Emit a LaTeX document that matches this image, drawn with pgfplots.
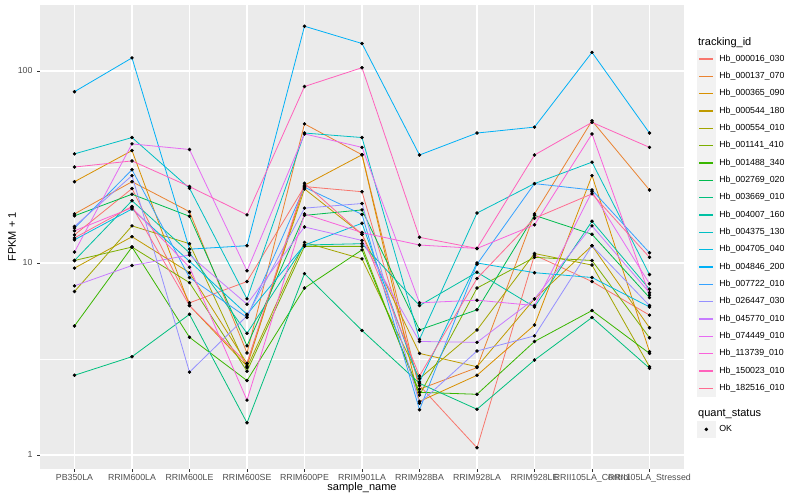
\documentclass[border=0pt]{standalone}
\usepackage{fontspec}
\setmainfont{Liberation Sans}
\usepackage{pgfplots}
\usepackage{pgfplotstable}
\pgfplotsset{compat=1.18}

\definecolor{gbg}{HTML}{EBEBEB}
\definecolor{gkey}{HTML}{F2F2F2}
\definecolor{gtick}{HTML}{333333}
\definecolor{gtxt}{HTML}{4D4D4D}
\definecolor{c1}{HTML}{F8766D}
\definecolor{c2}{HTML}{EA8331}
\definecolor{c3}{HTML}{D89000}
\definecolor{c4}{HTML}{C09B00}
\definecolor{c5}{HTML}{A3A500}
\definecolor{c6}{HTML}{7CAE00}
\definecolor{c7}{HTML}{39B600}
\definecolor{c8}{HTML}{00BB4E}
\definecolor{c9}{HTML}{00BF7D}
\definecolor{c10}{HTML}{00C1A3}
\definecolor{c11}{HTML}{00BFC4}
\definecolor{c12}{HTML}{00BAE0}
\definecolor{c13}{HTML}{00B0F6}
\definecolor{c14}{HTML}{35A2FF}
\definecolor{c15}{HTML}{9590FF}
\definecolor{c16}{HTML}{C77CFF}
\definecolor{c17}{HTML}{E76BF3}
\definecolor{c18}{HTML}{FA62DB}
\definecolor{c19}{HTML}{FF62BC}
\definecolor{c20}{HTML}{FF6C91}

% FPKM + 1 per sample (x = sample index), one column per tracking_id
\pgfplotstableread{
x  s1   s2   s3   s4   s5   s6   s7   s8   s9   s10  s11  s12  s13  s14  s15  s16  s17  s18  s19  s20
0  14   18   26.5 9.4  7.1  10.3 4.7  17.6 2.6  10.3 37   13.2 78   15.2 15.5 7.6  11.4 14.7 31.6 13.5
1  24.4 26.5 38.5 13.7 15.6 12.1 12.1 22.8 3.25 21.1 45   19.1 117  30.6 28.5 9.7  41.7 19.4 34   19.7
2  6.2  18.5 6.0  8.9  12.6 7.9  4.1  17.5 5.4  11.3 24.5 10.2 11.8 8.4  2.7  11   39   9.5  25   6.0
3  8.0  3.4  2.9  3.0  2.85 2.73 2.44 3.7  1.47 4.3  6.5  5.4  12.3 5.2  5.3  6.1  9.1  1.93 17.8 3.0
4  25   53   25.4 24.3 12.8 12.2 7.4  17.7 8.8  12.4 47.5 12.4 171  24.8 19.3 15.4 47   18   83   26
5  23.5 36.6 36.6 14.1 10.5 12.2 11.7 18.9 4.45 12.6 45   16.1 139  17.9 20.4 13.1 40   14.4 104  14.1
6  2.3  2.2  1.9  3.38 2.5  2.05 2.12 4.48 2.36 6.0  4.0  2.4  36.5 1.72 1.86 3.9  6.2  12.4 13.6 2.58
7  1.09 2.85 2.6  2.88 4.48 7.4  2.07 5.7  1.73 8.95 18.2 10   47.5 9.85 3.48 3.86 6.4  11.9 11.9 8.3
8  11   18   4.75 6.5  11.2 10.7 3.9  17.7 3.12 5.9  25.9 8.9  51   25.9 4.17 6.5  6.0  15.8 36.5 17.1
9  8.0  55   28.5 12.3 9.75 10.3 5.65 14.1 5.2  16.5 33.5 8.4  125  24   12.3 15.6 23.5 47   54   22.9
10 5.35 24   3.45 4.6  2.88 4.08 3.38 6.6  2.83 7.3  8.7  5.9  47.5 11.3 6.0  7.0  7.8  6.8  40   10.7
}\data

\begin{document}
\begin{tikzpicture}
\useasboundingbox (-30pt,-23.25pt) rectangle (570pt,351.75pt);
\begin{axis}[
    scale only axis,
    width=483pt, height=348pt,
    ymode=log,
    xmin=-0.6, xmax=10.6,
    ymin=0.845, ymax=220.6,
    axis background/.style={fill=gbg},
    axis line style={draw=none},
    grid=major,
    major grid style={white, line width=1.1pt},
    yminorticks=false,
    xtick={0,...,10},
    xticklabels={PB350LA,RRIM600LA,RRIM600LE,RRIM600SE,RRIM600PE,RRIM901LA,RRIM928BA,RRIM928LA,RRIM928LE,RRII105LA\_Control,RRII105LA\_Stressed},
    ytick={1,10,100},
    yticklabels={1,10,100},
    extra y ticks={3.1623,31.623},
    extra y tick labels={},
    extra y tick style={grid=major, major grid style={white, line width=0.5pt}, major tick length=0pt},
    xtick pos=bottom, ytick pos=left,
    tick align=outside,
    major tick length=2.1pt,
    tick style={gtick, line width=0.6pt},
    ticklabel style={font=\fontsize{6.6}{7.9}\selectfont, text=gtxt},
    xticklabel style={yshift=1.5pt},
    /pgf/number format/assume math mode=true,
    xlabel={sample\_name},
    ylabel={FPKM + 1},
    every axis x label/.style={at={(axis description cs:0.5,0)}, anchor=center, yshift=-14pt, font=\fontsize{8.25}{9.9}\selectfont},
    every axis y label/.style={at={(axis description cs:0,0.5)}, anchor=center, rotate=90, yshift=21pt, font=\fontsize{8.25}{9.9}\selectfont},
    legend style={draw=none, fill=none, at={(axis description cs:1.0202,0.93)}, anchor=north west,
        font=\fontsize{6.6}{7.9}\selectfont, row sep=0pt, inner sep=0pt,
        nodes={inner sep=0pt},
        /tikz/every odd column/.append style={column sep=3pt}},
    legend cell align=left,
    legend image code/.code={\fill[gkey] (0pt,-6.2pt) rectangle (12.96pt,6.2pt);
        \draw[#1, line width=1.1pt] (1.3pt,0pt) -- (11.66pt,0pt);},
]
\addlegendimage{empty legend}
\addlegendentry[font=\fontsize{8.25}{9.9}\selectfont, text depth=3.5pt]{\hspace{-15.9pt}tracking\_id}

\addplot[c1, line width=0.6pt] table[x=x, y=s1] {\data};
\addlegendentry{Hb\_000016\_030}
\addplot[c2, line width=0.6pt] table[x=x, y=s2] {\data};
\addlegendentry{Hb\_000137\_070}
\addplot[c3, line width=0.6pt] table[x=x, y=s3] {\data};
\addlegendentry{Hb\_000365\_090}
\addplot[c4, line width=0.6pt] table[x=x, y=s4] {\data};
\addlegendentry{Hb\_000544\_180}
\addplot[c5, line width=0.6pt] table[x=x, y=s5] {\data};
\addlegendentry{Hb\_000554\_010}
\addplot[c6, line width=0.6pt] table[x=x, y=s6] {\data};
\addlegendentry{Hb\_001141\_410}
\addplot[c7, line width=0.6pt] table[x=x, y=s7] {\data};
\addlegendentry{Hb\_001488\_340}
\addplot[c8, line width=0.6pt] table[x=x, y=s8] {\data};
\addlegendentry{Hb\_002769\_020}
\addplot[c9, line width=0.6pt] table[x=x, y=s9] {\data};
\addlegendentry{Hb\_003669\_010}
\addplot[c10, line width=0.6pt] table[x=x, y=s10] {\data};
\addlegendentry{Hb\_004007\_160}
\addplot[c11, line width=0.6pt] table[x=x, y=s11] {\data};
\addlegendentry{Hb\_004375\_130}
\addplot[c12, line width=0.6pt] table[x=x, y=s12] {\data};
\addlegendentry{Hb\_004705\_040}
\addplot[c13, line width=0.6pt] table[x=x, y=s13] {\data};
\addlegendentry{Hb\_004846\_200}
\addplot[c14, line width=0.6pt] table[x=x, y=s14] {\data};
\addlegendentry{Hb\_007722\_010}
\addplot[c15, line width=0.6pt] table[x=x, y=s15] {\data};
\addlegendentry{Hb\_026447\_030}
\addplot[c16, line width=0.6pt] table[x=x, y=s16] {\data};
\addlegendentry{Hb\_045770\_010}
\addplot[c17, line width=0.6pt] table[x=x, y=s17] {\data};
\addlegendentry{Hb\_074449\_010}
\addplot[c18, line width=0.6pt] table[x=x, y=s18] {\data};
\addlegendentry{Hb\_113739\_010}
\addplot[c19, line width=0.6pt] table[x=x, y=s19] {\data};
\addlegendentry{Hb\_150023\_010}
\addplot[c20, line width=0.6pt] table[x=x, y=s20] {\data};
\addlegendentry{Hb\_182516\_010}

% points on top of all lines
\pgfplotsinvokeforeach{1,...,20}{
  \addplot[only marks, mark=*, mark size=1.1pt, black, forget plot] table[x=x, y=s#1] {\data};
}

\addlegendimage{empty legend}
\addlegendentry[text height=9pt, text depth=0pt]{}
\addlegendimage{empty legend}
\addlegendentry[font=\fontsize{8.25}{9.9}\selectfont, text depth=3.5pt]{\hspace{-15.9pt}quant\_status}
\addlegendimage{legend image code/.code={\fill[gkey] (0pt,-6.2pt) rectangle (12.96pt,6.2pt);
    \fill[black] (6.48pt,0pt) circle (1.1pt);}}
\addlegendentry{OK}
\end{axis}
\end{tikzpicture}
\end{document}
